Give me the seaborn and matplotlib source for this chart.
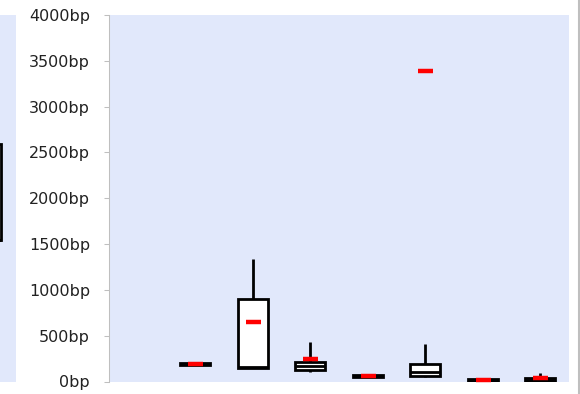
import numpy as np
import pandas as pd
import matplotlib.pyplot as plt
import seaborn as sns
from matplotlib.lines import Line2D

# categories (first one has no data)
cats = ["C1", "C2", "C3", "C4", "C5", "C6", "C7", "C8"]
box_cats = cats[1:]

# box statistics (bp)
whisker_lo = [185, 150, 107, 45, 53, 0, 5]
q1 = [185, 150, 125, 45, 63, 0, 10]
median = [190, 155, 170, 55, 100, 10, 20]
q3 = [200, 897, 210, 70, 188, 25, 40]
whisker_hi = [200, 1334, 435, 70, 409, 25, 93]
means = [195, 650, 250, 60, 3390, 12, 38]

# edge of the neighbouring panel's box, cropped at the left border
left_box = [1545, 1545, 1545, 2593, 2593]

yticks = list(range(0, 4001, 500))
ytick_labels = [f"{v}bp" for v in yticks]

bg = "#e1e8fb"
grey = "#bfbfbf"

df = pd.DataFrame({
    "cat": np.repeat(box_cats, 5),
    "value": np.column_stack([whisker_lo, q1, median, q3, whisker_hi]).ravel(),
})

sns.set_style("white")
plt.rcParams["font.family"] = ["DejaVu Sans"]

fig = plt.figure(figsize=(5.8, 3.94), dpi=100)
bottom = (394 - 381.5) / 394
height = 366.5 / 394

# main panel
ax = fig.add_axes([109 / 580, bottom, 460 / 580, height])
ax.set_facecolor(bg)
sns.boxplot(data=df, x="cat", y="value", order=cats, whis=(0, 100), width=0.52,
            color="white", linecolor="black", linewidth=2, showcaps=False,
            showfliers=False, ax=ax)
sns.pointplot(x=box_cats, y=means, order=cats, color="red", marker="_",
              markersize=10.8, markeredgewidth=3.2, linestyle="none",
              errorbar=None, ax=ax, zorder=5)

ax.set_xlim(-0.5, 7.5)
ax.set_ylim(0, 4000)
ax.set_yticks(yticks)
ax.set_yticklabels(ytick_labels)
ax.set_xticks([])
ax.set_xlabel("")
ax.set_ylabel("")
for s in ["top", "right", "bottom"]:
    ax.spines[s].set_visible(False)
ax.spines["left"].set_color(grey)
ax.spines["left"].set_linewidth(0.75)
ax.tick_params(axis="y", left=True, length=3.6, width=0.75, color=grey, pad=10,
               labelsize=11.5, labelcolor="#222222")

# cropped strip of the neighbouring panel
ax0 = fig.add_axes([0, bottom, 16 / 580, height])
ax0.set_facecolor(bg)
sns.boxplot(y=left_box, whis=(0, 100), width=0.52, color="white",
            linecolor="black", linewidth=2, showcaps=False, ax=ax0)
ax0.set_xlim(0.26 - 1 / 57.5, 0.26 - 1 / 57.5 + 16 / 57.5)
ax0.set_ylim(0, 4000)
ax0.set_xticks([])
ax0.set_yticks([])
ax0.set_ylabel("")
for s in ax0.spines.values():
    s.set_visible(False)

# grey border on the right edge
fig.add_artist(Line2D([579 / 580, 579 / 580], [0, 1], transform=fig.transFigure,
                      color=grey, lw=1.5))

fig.savefig("out.png", dpi=100)
